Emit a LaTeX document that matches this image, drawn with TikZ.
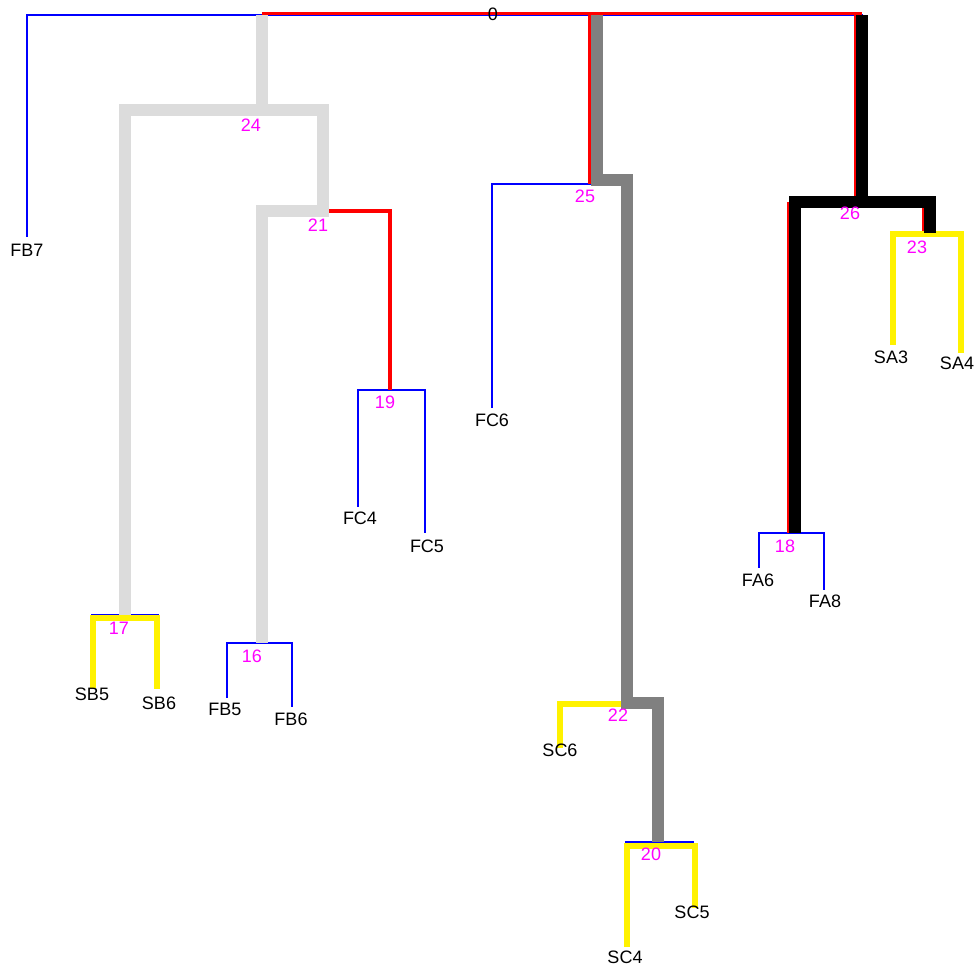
\documentclass[tikz,border=0pt]{standalone}
\usepackage{fontspec}
\setmainfont{Liberation Sans}
\definecolor{lightgr}{HTML}{DCDCDC}
\definecolor{midgr}{HTML}{808080}
\definecolor{mag}{HTML}{FF00FF}
\begin{document}
\begin{tikzpicture}[x=0.75pt,y=-0.75pt,
  bl/.style={draw=blue,line width=1.5pt},
  rd/.style={draw=red,line width=2.5pt},
  lgr/.style={draw=lightgr,line width=9pt},
  gry/.style={draw=midgr,line width=9pt},
  blk/.style={draw=black,line width=9.5pt},
  yel/.style={draw=yellow,line width=4.8pt},
  lab/.style={font=\fontsize{13.5}{15}\selectfont,text=black,inner sep=0pt},
  num/.style={font=\fontsize{13.5}{15}\selectfont,text=mag,inner sep=0pt}]
\useasboundingbox (0,0) rectangle (975,967);
% internal nodes
\coordinate (R)   at (492,15);
\coordinate (n24) at (262,110);
\coordinate (n21) at (323,211);
\coordinate (n19) at (390,390);
\coordinate (n17) at (125,615);
\coordinate (n16) at (262,643);
\coordinate (n25) at (590,184);
\coordinate (n22) at (627,703);
\coordinate (n20) at (658,842);
\coordinate (n26) at (862,202);
\coordinate (n18) at (795,533);
\coordinate (n23) at (930,233);
% leaves
\coordinate (FB7) at (27,237);
\coordinate (SB5) at (92,688);
\coordinate (SB6) at (158,689);
\coordinate (FB5) at (227,698);
\coordinate (FB6) at (292,707);
\coordinate (FC4) at (358,507);
\coordinate (FC5) at (425,533);
\coordinate (FC6) at (492,408);
\coordinate (SC6) at (560,748);
\coordinate (SC4) at (626,947);
\coordinate (SC5) at (693,908);
\coordinate (FA6) at (759,568);
\coordinate (FA8) at (824,590);
\coordinate (SA3) at (892,345);
\coordinate (SA4) at (959,353);
% thin blue tree
\draw[bl] (R) -| (FB7);
\draw[bl] (R) -| (n24);
\draw[bl] (R) -| (n25);
\draw[bl] (R) -| (n26);
\draw[bl] (n24) -| (n17);
\draw[bl] (n24) -| (n21);
\draw[bl] (n21) -| (n16);
\draw[bl] (n21) -| (n19);
\draw[bl] (n19) -| (FC4);
\draw[bl] (n19) -| (FC5);
\draw[bl] (n17) -| (SB5);
\draw[bl] (n17) -| (SB6);
\draw[bl] (n16) -| (FB5);
\draw[bl] (n16) -| (FB6);
\draw[bl] (n25) -| (FC6);
\draw[bl] (n25) -| (n22);
\draw[bl] (n22) -| (SC6);
\draw[bl] (n22) -| (n20);
\draw[bl] (n20) -| (SC4);
\draw[bl] (n20) -| (SC5);
\draw[bl] (n26) -| (n18);
\draw[bl] (n26) -| (n23);
\draw[bl] (n18) -| (FA6);
\draw[bl] (n18) -| (FA8);
\draw[bl] (n23) -| (SA3);
\draw[bl] (n23) -| (SA4);
% red path
\draw[rd] ([yshift=1.1pt]R -| n24) -- ([yshift=1.1pt]R -| n26);
\draw[rd] (R -| n25) -- (n25);
\draw[rd] ([xshift=-5pt]R -| n26) -- ([xshift=-5pt]n26);
\draw[rd] ([xshift=-4.5pt]n26 -| n18) -- ([xshift=-4.5pt]n18);
\draw[rd] ([xshift=-5pt]n26 -| n23) -- ([xshift=-5pt]n23);
\draw[rd] (n21) -| (n19);
% yellow paths
\draw[yel] ([xshift=0.8pt]SB5) |- ([yshift=-2.2pt]n17) -| ([xshift=-0.6pt]SB6);
\draw[yel] ([xshift=0.8pt]SA3) |- ([yshift=-0.8pt]n23) -| ([xshift=1.5pt]SA4);
\draw[yel] (SC6) |- ([yshift=-0.8pt]n22);
\draw[yel] ([xshift=0.8pt]SC4) |- ([yshift=-3pt]n20) -| ([xshift=1.5pt]SC5);
% thick paths
\draw[lgr] (R -| n24) -- (n24);
\draw[lgr] (n17) |- (n24) -| (n21) -| (n16);
\draw[gry] ([xshift=5.2pt]R -| n25) |- ([yshift=3pt]n25 -| n22) |- (n22 -| n20) -- (n20);
\draw[blk] (R -| n26) -- (n26);
\draw[blk] (n18) |- (n26) -| (n23);
% internal labels
\node[lab] (t0)  at (493,14)  {0};
\node[num] (t24) at (251,125) {24};
\node[num] (t21) at (318,225) {21};
\node[num] (t19) at (385,402) {19};
\node[num] (t17) at (119,628) {17};
\node[num] (t16) at (252,656) {16};
\node[num] (t25) at (585,196) {25};
\node[num] (t22) at (618,715) {22};
\node[num] (t20) at (651,854) {20};
\node[num] (t26) at (850,213) {26};
\node[num] (t23) at (917,247) {23};
\node[num] (t18) at (785,546) {18};
% leaf labels
\node[lab] (tFB7) at (27,250)  {FB7};
\node[lab] (tSB5) at (92,694)  {SB5};
\node[lab] (tSB6) at (159,703) {SB6};
\node[lab] (tFB5) at (225,709) {FB5};
\node[lab] (tFB6) at (291,719) {FB6};
\node[lab] (tFC4) at (360,518) {FC4};
\node[lab] (tFC5) at (427,546) {FC5};
\node[lab] (tFC6) at (492,420) {FC6};
\node[lab] (tSC6) at (560,750) {SC6};
\node[lab] (tSC4) at (625,957) {SC4};
\node[lab] (tSC5) at (692,912) {SC5};
\node[lab] (tFA6) at (758,580) {FA6};
\node[lab] (tFA8) at (825,601) {FA8};
\node[lab] (tSA3) at (891,357) {SA3};
\node[lab] (tSA4) at (957,363) {SA4};
\end{tikzpicture}
\end{document}
